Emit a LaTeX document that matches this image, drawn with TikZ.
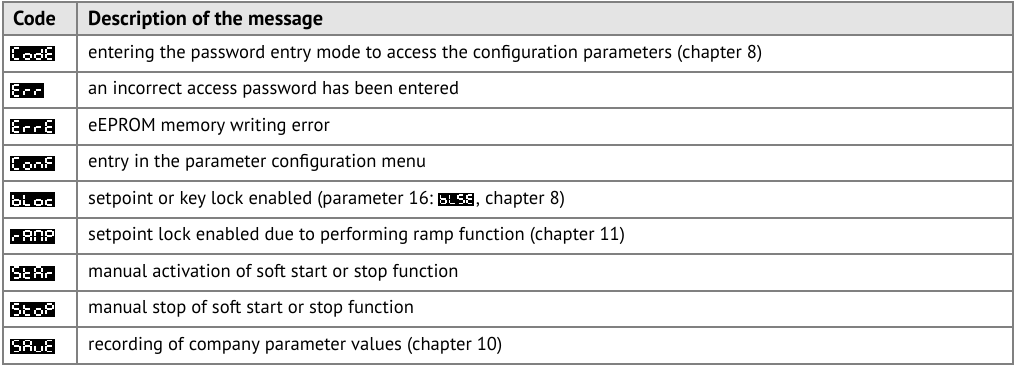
\documentclass[tikz,border=0pt]{standalone}
\usepackage{fontspec}
\setmainfont{PT Sans}
\usetikzlibrary{positioning}

\definecolor{gridGray}{HTML}{808080}
\definecolor{headGray}{HTML}{E4E4E4}

% seven segment letters inside a code box: node, scale, list of lit segments
\newcommand{\codeDigits}[3]{%
  \foreach \segs [count=\i from 0] in #3
  {
    \begin{scope}[shift={(#1.north west)},scale=#2,shift={(3+11*\i,2)}]
      \foreach \s in \segs {\draw[segLine,seg\s];}
    \end{scope}
  }}

\begin{document}
\begin{tikzpicture}
[x=1pt,y=-1pt,
  gridLine/.style={draw=gridGray,line width=2pt},%
  cellText/.style={anchor=base west,inner sep=0pt,font=\fontsize{18.6}{21}\selectfont},%
  headText/.style={anchor=base west,inner sep=0pt,font=\fontsize{20.3}{24}\selectfont\bfseries},%
  codeBox/.style={fill=black,inner sep=0pt,minimum height=15pt,anchor=west},%
  segLine/.style={white,line width=1.9pt},%
  segA/.style={insert path={(0.6,0)--(6.4,0)}},%
  segB/.style={insert path={(7,0.6)--(7,5)}},%
  segC/.style={insert path={(7,6)--(7,10.4)}},%
  segD/.style={insert path={(0.6,11)--(6.4,11)}},%
  segE/.style={insert path={(0,6)--(0,10.4)}},%
  segF/.style={insert path={(0,0.6)--(0,5)}},%
  segG/.style={insert path={(0.6,5.5)--(6.4,5.5)}}]
\fill[white] (0,0) rectangle (1018,366);
%% header
\fill[headGray] (3,2.5) rectangle (1013,35);
\node (hcode) at (13,26) [headText] {Code};
\node (hdesc) at (88,26) [headText] {Description of the message};
%% rows
\foreach \rowname/\codesegs/\boxwidth/\message [count=\k] in {
  codE/{{A,D,E,F},{C,D,E,G},{B,C,D,E,G},{A,D,E,F,G}}/45/{entering the password entry mode to access the configuration parameters (chapter 8)},
  err/{{A,D,E,F,G},{E,G},{E,G}}/34/{an incorrect access password has been entered},
  errE/{{A,D,E,F,G},{E,G},{E,G},{A,D,E,F,G}}/45/{eEPROM memory writing error},
  conF/{{A,D,E,F},{C,D,E,G},{C,E,G},{A,E,F,G}}/45/{entry in the parameter configuration menu},
  bLoc/{{C,D,E,F,G},{D,E,F},{C,D,E,G},{D,E,G}}/45/{setpoint or key lock enabled (parameter 16:},
  rAMP/{{E,G},{A,B,C,E,F,G},{A,B,C,E,F},{A,B,E,F,G}}/45/{setpoint lock enabled due to performing ramp function (chapter 11)},
  StAr/{{A,C,D,F,G},{D,E,F,G},{A,B,C,E,F,G},{E,G}}/45/{manual activation of soft start or stop function},
  StoP/{{A,C,D,F,G},{D,E,F,G},{C,D,E,G},{A,B,E,F,G}}/45/{manual stop of soft start or stop function},
  SAvE/{{A,C,D,F,G},{A,B,C,E,F,G},{C,D,E},{A,D,E,F,G}}/45/{recording of company parameter values (chapter 10)}}
{
  \pgfmathsetmacro{\yc}{35+36.55*(\k-0.5)}
  \node (c\rowname) at (10,\yc+0.5) [codeBox,minimum width=\boxwidth pt] {};
  \codeDigits{c\rowname}{1}{\codesegs}
  \node (t\rowname) at (88,\yc+4.8) [cellText] {\message};
}
%% inline code in the bLoc row
\node (cbLSE) [codeBox,minimum width=36pt,minimum height=12.5pt,right=5pt of tbLoc] {};
\begin{scope}[segLine/.style={white,line width=1.6pt}]
  \codeDigits{cbLSE}{0.8}{{{C,D,E,F,G},{D,E,F},{A,C,D,F,G},{A,D,E,F,G}}}
\end{scope}
\node (tbLocEnd) at ([xshift=1pt]cbLSE.east |- tbLoc.base) [cellText] {, chapter 8)};
%% grid
\foreach \y in {2.5,35,71.55,108.1,144.65,181.2,217.75,254.3,290.85,327.4,364}
  \draw[gridLine] (2,\y) -- (1014,\y);
\foreach \x in {3,77,1013}
  \draw[gridLine] (\x,1.5) -- (\x,365);
\end{tikzpicture}
\end{document}
